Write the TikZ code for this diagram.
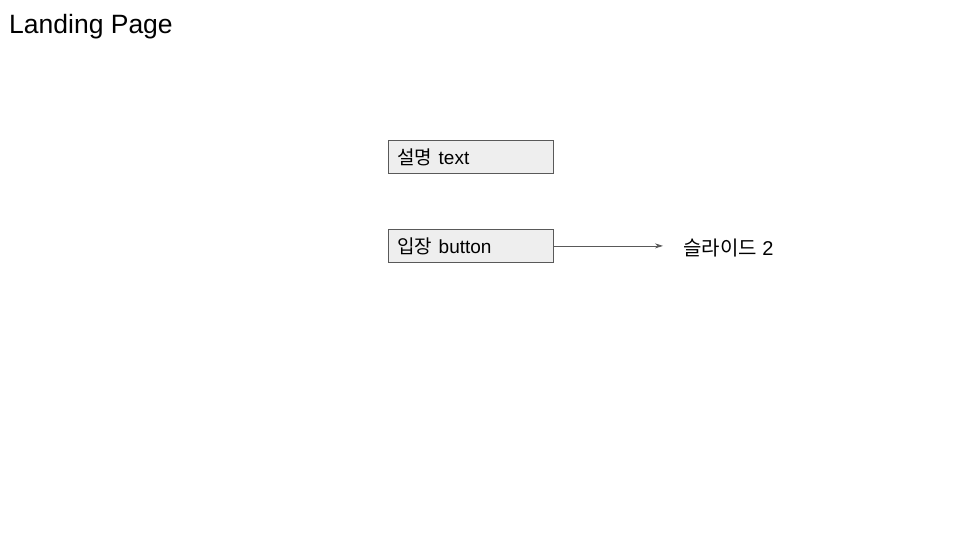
\documentclass[tikz,border=0pt]{standalone}
\usepackage{fontspec}
\setmainfont{Liberation Sans}
\newfontfamily\kr{Noto Sans CJK KR}
\usetikzlibrary{arrows.meta,positioning}
\definecolor{boxfill}{HTML}{EEEEEE}
\definecolor{boxline}{HTML}{595959}
\begin{document}
\begin{tikzpicture}[
            x=1pt, y=-1pt,
            uibox/.style={draw=boxline, fill=boxfill, line width=0.8pt, rectangle, anchor=north west,
                minimum width=165pt, minimum height=33pt, text width=147pt, inner xsep=9pt,
                align=left, font=\fontsize{19}{22}\selectfont},
            link/.style={draw=boxline, line width=0.8pt, -{Stealth[length=8pt,width=5pt]}}
        ]
        \useasboundingbox (0,0) rectangle (960,540);
        \node[anchor=west, inner sep=0pt, font=\fontsize{26.5}{30}\selectfont] (title) at (9,27) {Landing Page};
        \node[uibox] (desc) at (388,140) {{\kr 설명} text};
        \node[uibox] (enter) at (388,229) {{\kr 입장} button};
        \node[anchor=west, inner sep=0pt, font=\fontsize{20}{24}\selectfont] (slide) at (683,248) {{\kr 슬라이드} 2};
        \draw[link, shorten >=20pt] (enter.east) -- (enter.east -| slide.west);
    \end{tikzpicture}
\end{document}
